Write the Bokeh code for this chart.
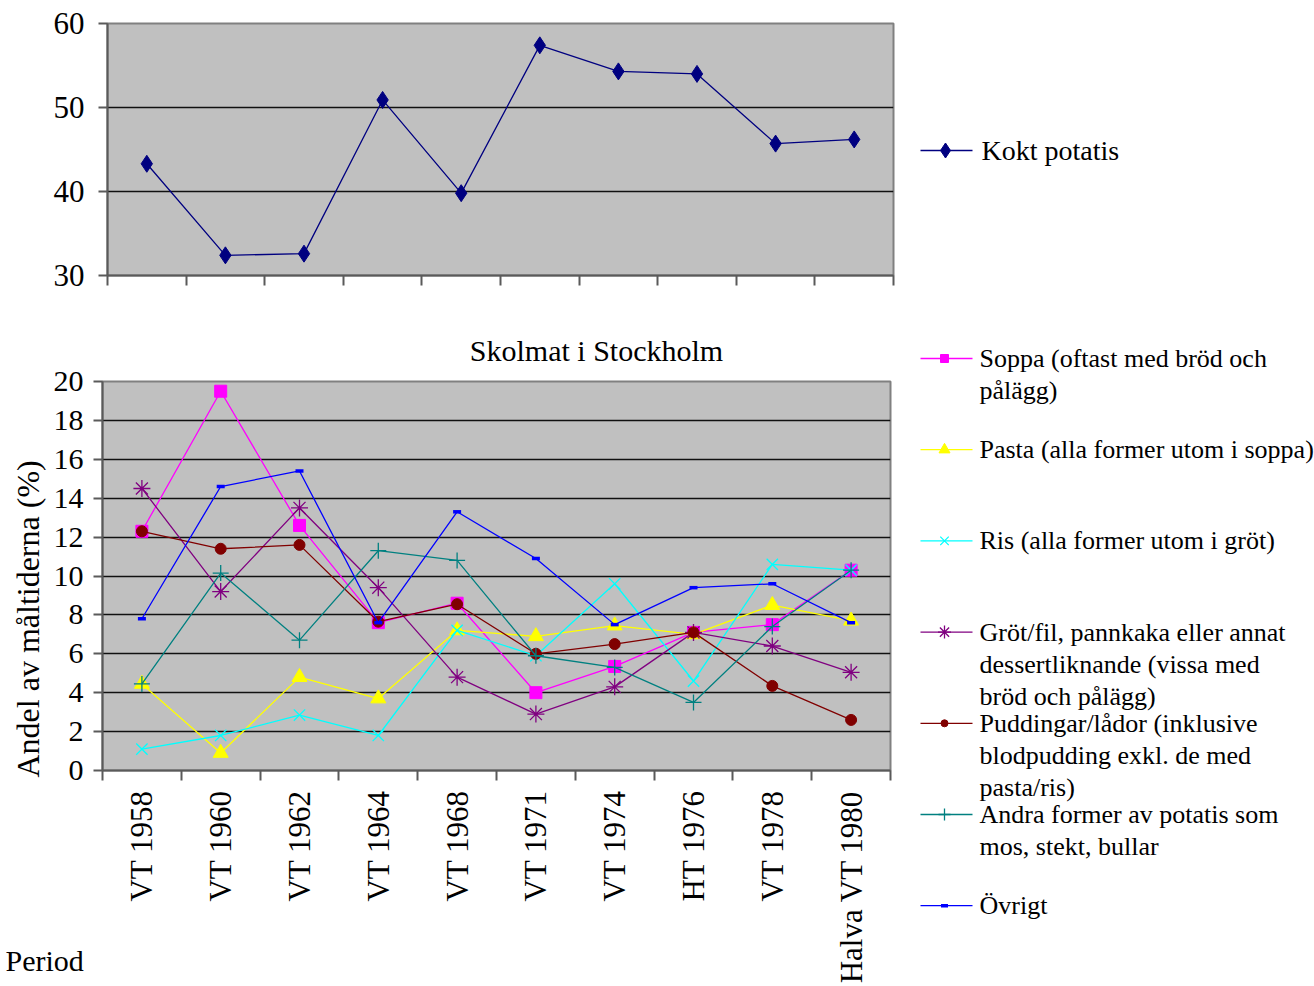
import numpy as np
from bokeh.plotting import figure
from bokeh.layouts import column, row
from bokeh.models import Range1d, FixedTicker, Label, Title
from bokeh.embed import file_html
from bokeh.resources import INLINE
from bokeh.core.properties import value

# ---------------- data ----------------
periods = ["VT 1958", "VT 1960", "VT 1962", "VT 1964", "VT 1968",
           "VT 1971", "VT 1974", "HT 1976", "VT 1978", "Halva VT 1980"]

kokt_potatis = [43.3, 32.4, 32.6, 50.9, 39.8, 57.4, 54.3, 54.0, 45.7, 46.2]

soppa   = [12.3, 19.5, 12.6, 7.6, 8.6, 4.0, 5.35, 7.1, 7.5, 10.3]
pasta   = [4.45, 0.9, 4.8, 3.7, 7.2, 6.9, 7.45, 7.0, 8.5, 7.7]
ris     = [1.1, 1.8, 2.85, 1.8, 7.2, 5.9, 9.6, 4.6, 10.6, 10.3]
grot    = [14.5, 9.2, 13.5, 9.4, 4.8, 2.9, 4.3, 7.1, 6.4, 5.05]
pudding = [12.3, 11.4, 11.6, 7.65, 8.55, 6.0, 6.5, 7.1, 4.35, 2.6]
andra   = [4.45, 10.15, 6.7, 11.3, 10.8, 5.9, 5.3, 3.5, 7.4, 10.3]
ovrigt  = [7.8, 14.6, 15.4, 7.6, 13.3, 10.9, 7.5, 9.4, 9.6, 7.6]

top_label = "Kokt potatis"
series_labels = [
    "Soppa (oftast med bröd och\npålägg)",
    "Pasta (alla former utom i soppa)",
    "Ris (alla former utom i gröt)",
    "Gröt/fil, pannkaka eller annat\ndessertliknande (vissa med\nbröd och pålägg)",
    "Puddingar/lådor (inklusive\nblodpudding exkl. de med\npasta/ris)",
    "Andra former av potatis som\nmos, stekt, bullar",
    "Övrigt",
]
series_values = [soppa, pasta, ris, grot, pudding, andra, ovrigt]
series_colors = ["#FF00FF", "#FFFF00", "#00FFFF", "#800080", "#800000", "#008080", "#0000FF"]
series_markers = ["square", "triangle", "x", "asterisk", "circle", "cross", "dash"]
series_sizes = [12, 15, 16, 17, 11, 16, 8]

chart_title = "Skolmat i Stockholm"
y_title = "Andel av måltiderna (%)"
x_title = "Period"

FONT = "Liberation Serif"
n = len(periods)
xs = np.arange(n) + 0.5
bounds = list(range(n + 1))
AX = "#5a5a5a"


def style_axes(p):
    for ax in (p.xaxis[0], p.yaxis[0]):
        ax.axis_line_color = AX
        ax.axis_line_width = 2
        ax.major_tick_line_color = AX
        ax.major_tick_line_width = 2
        ax.minor_tick_line_color = AX
        ax.minor_tick_line_width = 2
        ax.major_tick_in = 0
        ax.minor_tick_in = 0
        ax.major_label_text_font = FONT
        ax.major_label_text_color = "black"
    p.xgrid.visible = False
    p.ygrid.grid_line_color = "#111111"
    p.ygrid.grid_line_width = 1.5
    p.background_fill_color = "#C0C0C0"
    p.outline_line_color = "#808080"
    p.outline_line_width = 2
    p.frame_align = False


# ---------------- top chart ----------------
top = figure(width=910, height=300, output_backend="svg", toolbar_location=None,
             x_range=Range1d(0, n), y_range=Range1d(30, 60),
             min_border_left=107, min_border_right=17, min_border_top=23, min_border_bottom=25)
style_axes(top)
top.yaxis.ticker = FixedTicker(ticks=[30, 40, 50, 60])
top.yaxis.major_tick_out = 9
top.yaxis.major_label_standoff = 14
top.yaxis.major_label_text_font_size = "31px"
top.xaxis.ticker = FixedTicker(ticks=bounds)
top.xaxis.major_tick_out = 10
top.xaxis.major_label_overrides = {b: "" for b in bounds}
top.xaxis.major_label_text_font_size = "2px"

top.line(xs, kokt_potatis, line_color="#000080", line_width=1.3)
top.scatter(xs, kokt_potatis, marker="diamond", size=17, fill_color="#000080", line_color="#000080")

# ---------------- bottom chart ----------------
bot = figure(width=910, height=686, output_backend="svg", toolbar_location=None,
             x_range=Range1d(0, n), y_range=Range1d(0, 20),
             min_border_left=102, min_border_right=20, min_border_top=81, min_border_bottom=213)
style_axes(bot)

bot.yaxis.ticker = FixedTicker(ticks=list(range(0, 21, 2)))
bot.yaxis.major_tick_out = 9
bot.yaxis.major_label_standoff = 10
bot.yaxis.major_label_text_font_size = "30px"
bot.xaxis.ticker = FixedTicker(ticks=list(xs), minor_ticks=bounds)
bot.xaxis.major_tick_out = 0
bot.xaxis.minor_tick_out = 10
bot.xaxis.major_label_overrides = {float(x): lab for x, lab in zip(xs, periods)}
bot.xaxis.major_label_orientation = np.pi / 2
bot.xaxis.major_label_standoff = 10
bot.xaxis.major_label_text_font_size = "31px"

for vals, col, mk, sz in zip(series_values, series_colors, series_markers, series_sizes):
    bot.line(xs, vals, line_color=col, line_width=1.3)
    if mk in ("x", "asterisk", "cross"):
        bot.scatter(xs, vals, marker=mk, size=sz, line_color=col, line_width=1.3)
    elif mk == "dash":
        bot.scatter(xs, vals, marker=mk, size=sz, line_color=col, line_width=3.5)
    else:
        bot.scatter(xs, vals, marker=mk, size=sz, fill_color=col, line_color=col)

bot.add_layout(Title(text=y_title, align="left", offset=-7, text_font=FONT,
                     text_font_size="32px", text_font_style="normal", text_color="black",
                     standoff=10), "left")
bot.add_layout(Label(x=596, y=50, x_units="canvas", y_units="canvas", text=chart_title,
                     text_font=FONT, text_font_size="30px", text_align="center",
                     text_baseline="middle", text_color="black"), "above")
bot.add_layout(Label(x=5, y=660, x_units="canvas", y_units="canvas", text=x_title,
                     text_font=FONT, text_font_size="30px", text_align="left",
                     text_baseline="middle", text_color="black"), "above")


# ---------------- legends ----------------
def legend_fig(h):
    f = figure(width=404, height=h, output_backend="svg", toolbar_location=None,
               x_range=Range1d(0, 404), y_range=Range1d(h, 0),
               x_axis_type=None, y_axis_type=None, min_border=0)
    f.grid.visible = False
    f.outline_line_color = None
    f.background_fill_color = "white"
    f.frame_align = False
    return f


leg_top = legend_fig(300)
leg_top.line([10, 62], [150, 150], line_color="#000080", line_width=1.3)
leg_top.scatter([35], [150], marker="diamond", size=15, fill_color="#000080", line_color="#000080")
leg_top.text([71], [150], text=[top_label], text_font=value(FONT), text_font_size="28px",
             text_baseline="middle", text_color="black")

leg_bot = legend_fig(686)
slot0, slot_step, line_h = 58, 91.2, 32
for i, (lab, col, mk, sz) in enumerate(zip(series_labels, series_colors, series_markers, series_sizes)):
    yy = slot0 + i * slot_step
    leg_bot.line([10, 62], [yy, yy], line_color=col, line_width=1.3)
    msz = max(sz - 4, 7)
    if mk in ("x", "asterisk", "cross"):
        leg_bot.scatter([34], [yy], marker=mk, size=msz, line_color=col, line_width=1.3)
    elif mk == "dash":
        leg_bot.scatter([34], [yy], marker=mk, size=7, line_color=col, line_width=3.5)
    else:
        leg_bot.scatter([34], [yy], marker=mk, size=msz, fill_color=col, line_color=col)
    lines = lab.split("\n")
    leg_bot.text([69] * len(lines), [yy + k * line_h for k in range(len(lines))], text=lines,
                 text_font=value(FONT), text_font_size="26px", text_baseline="middle",
                 text_color="black")

layout = column(row(top, leg_top), row(bot, leg_bot))
open("out.html", "w").write(file_html(layout, INLINE))
